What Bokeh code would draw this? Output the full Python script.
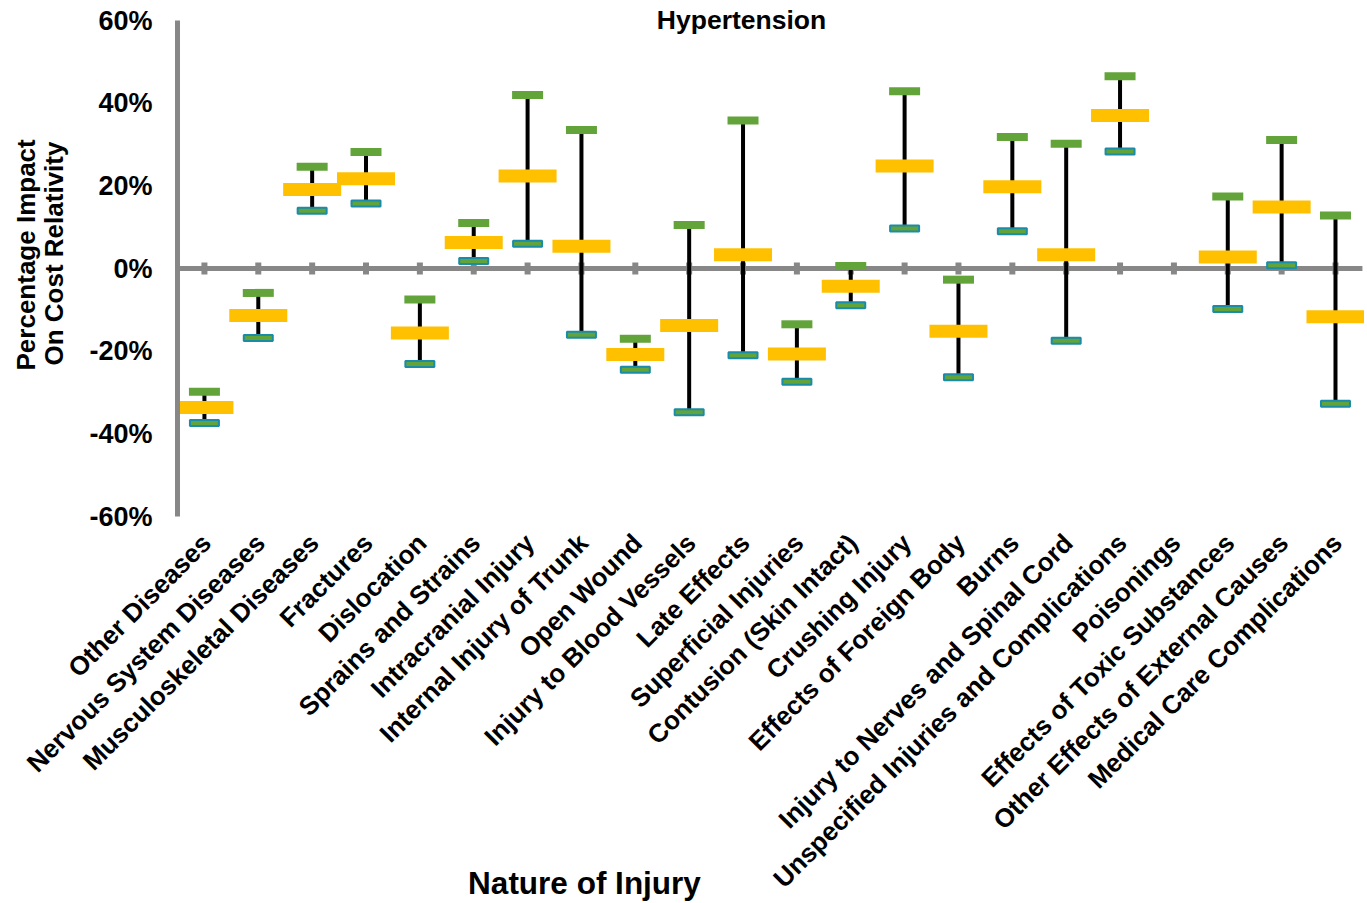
import math
from bokeh.plotting import figure
from bokeh.models import (ColumnDataSource, Range1d, FixedTicker, PrintfTickFormatter,
                          Label, LabelSet)
from bokeh.core.properties import value
from bokeh.embed import file_html
from bokeh.resources import INLINE

nan = float("nan")

categories = [
    "Other Diseases", "Nervous System Diseases", "Musculoskeletal Diseases", "Fractures",
    "Dislocation", "Sprains and Strains", "Intracranial Injury", "Internal Injury of Trunk",
    "Open Wound", "Injury to Blood Vessels", "Late Effects", "Superficial Injuries",
    "Contusion (Skin Intact)", "Crushing Injury", "Effects of Foreign Body", "Burns",
    "Injury to Nerves and Spinal Cord", "Unspecified Injuries and Complications",
    "Poisonings", "Effects of Toxic Substances", "Other Effects of External Causes",
    "Medical Care Complications",
]
high = [-29.8, -5.9, 24.6, 28.2, -7.5, 11.0, 42.0, 33.5, -17.0, 10.5, 35.8, -13.5,
        0.6, 42.9, -2.7, 31.8, 30.2, 46.5, nan, 17.4, 31.1, 12.8]
mid = [-33.6, -11.4, 19.1, 21.7, -15.6, 6.3, 22.4, 5.4, -20.8, -13.8, 3.3, -20.7,
       -4.3, 24.8, -15.2, 19.8, 3.3, 37.0, nan, 2.8, 14.9, -11.7]
low = [-37.4, -16.8, 14.0, 15.7, -23.1, 1.8, 6.0, -16.0, -24.5, -34.8, -21.0, -27.4,
       -8.9, 9.7, -26.3, 9.0, -17.5, 28.3, nan, -9.8, 0.8, -32.7]
y_ticks = [-60, -40, -20, 0, 20, 40, 60]

title_text = "Hypertension"
x_title = "Nature of Injury"
y_title_lines = ["Percentage Impact", "On Cost Relativity"]

FONT = "Liberation Sans"
GRAY = "#878787"
GREEN = "#62A33A"
TEAL = "#1B8CA8"
GOLD = "#FFC000"

# layout helpers: page pixels -> data units
# (category slots of 53.86 px starting at x=177 px; 0% at 268 px, 496 px for 120 %)
PPP = 496 / 120.0
CAT_W = 53.86
W, H = 1364, 902


def yv(py):
    return (268 - py) / PPP


def xv(px):
    return (px - 177) / CAT_W


n = len(categories)
xs = [i + 0.5 for i in range(n)]  # category centres on the numeric scale

src = ColumnDataSource(dict(x=xs, cat=categories, high=high, mid=mid, low=low, zero=[0] * n))
lab_src = ColumnDataSource(dict(x=xs, cat=categories, y=[yv(538)] * n))

p = figure(x_range=Range1d(xv(0), xv(W)), y_range=Range1d(yv(H), yv(0)),
           x_axis_location=None,
           width=W, height=H, output_backend="svg", toolbar_location=None,
           min_border_left=0, min_border_right=0, min_border_top=0, min_border_bottom=0)
p.outline_line_color = None
p.xgrid.grid_line_color = None
p.ygrid.grid_line_color = None
p.background_fill_color = "white"

# zero (category) axis line, spanning the category slots
p.line(x=[0, n], y=[0, 0], line_color=GRAY, line_width=5)
# category tick marks on the zero line
p.rect(x="x", y="zero", width=6, height=12, width_units="screen", height_units="screen",
       fill_color=GRAY, line_color=None, source=src)
# range lines
p.segment(x0="x", y0="low", x1="x", y1="high", line_color="black", line_width=4, source=src)
# high caps
p.rect(x="x", y="high", width=31, height=8, width_units="screen", height_units="screen",
       fill_color=GREEN, line_color=None, source=src)
# low caps
p.rect(x="x", y="low", width=29, height=6, width_units="screen", height_units="screen",
       fill_color=GREEN, line_color=TEAL, line_width=2, source=src)
# mid bars
p.rect(x="x", y="mid", width=58, height=13, width_units="screen", height_units="screen",
       fill_color=GOLD, line_color=None, source=src)

# y axis drawn at the left edge of the category area, limited to -60..60
yax = p.yaxis[0]
yax.fixed_location = 0
yax.bounds = (-60, 60)
yax.ticker = FixedTicker(ticks=y_ticks)
yax.formatter = PrintfTickFormatter(format="%d%%")
yax.axis_line_color = GRAY
yax.axis_line_width = 5
yax.major_tick_line_color = None
yax.minor_tick_line_color = None
yax.major_label_standoff = 19
yax.major_label_text_font = FONT
yax.major_label_text_font_style = "bold"
yax.major_label_text_font_size = "27px"
yax.major_label_text_color = "black"

# category labels (rotated 45 degrees, below the -60% line)
p.add_layout(LabelSet(x="x", y="y", text="cat", source=lab_src, angle=math.pi / 4,
                      x_offset=2, text_align="right", text_baseline="middle",
                      text_font=value(FONT), text_font_style="bold",
                      text_font_size="26px", text_color="black"))

# chart title and x title
p.add_layout(Label(x=xv(741), y=yv(19), text=title_text, text_font=FONT, text_font_style="bold",
                   text_font_size="26.5px", text_align="center", text_baseline="middle",
                   text_color="black"))
p.add_layout(Label(x=xv(584), y=yv(882), text=x_title, text_font=FONT, text_font_style="bold",
                   text_font_size="31.5px", text_align="center", text_baseline="middle",
                   text_color="black"))

# y title (two rotated lines)
for line, cx, start in [(y_title_lines[0], 25, 370), (y_title_lines[1], 53, 365)]:
    p.add_layout(Label(x=xv(cx), y=yv(start), text=line, angle=math.pi / 2,
                       text_font=FONT, text_font_style="bold", text_font_size="26px",
                       text_align="left", text_baseline="middle", text_color="black"))

open("out.html", "w").write(file_html(p, INLINE))
